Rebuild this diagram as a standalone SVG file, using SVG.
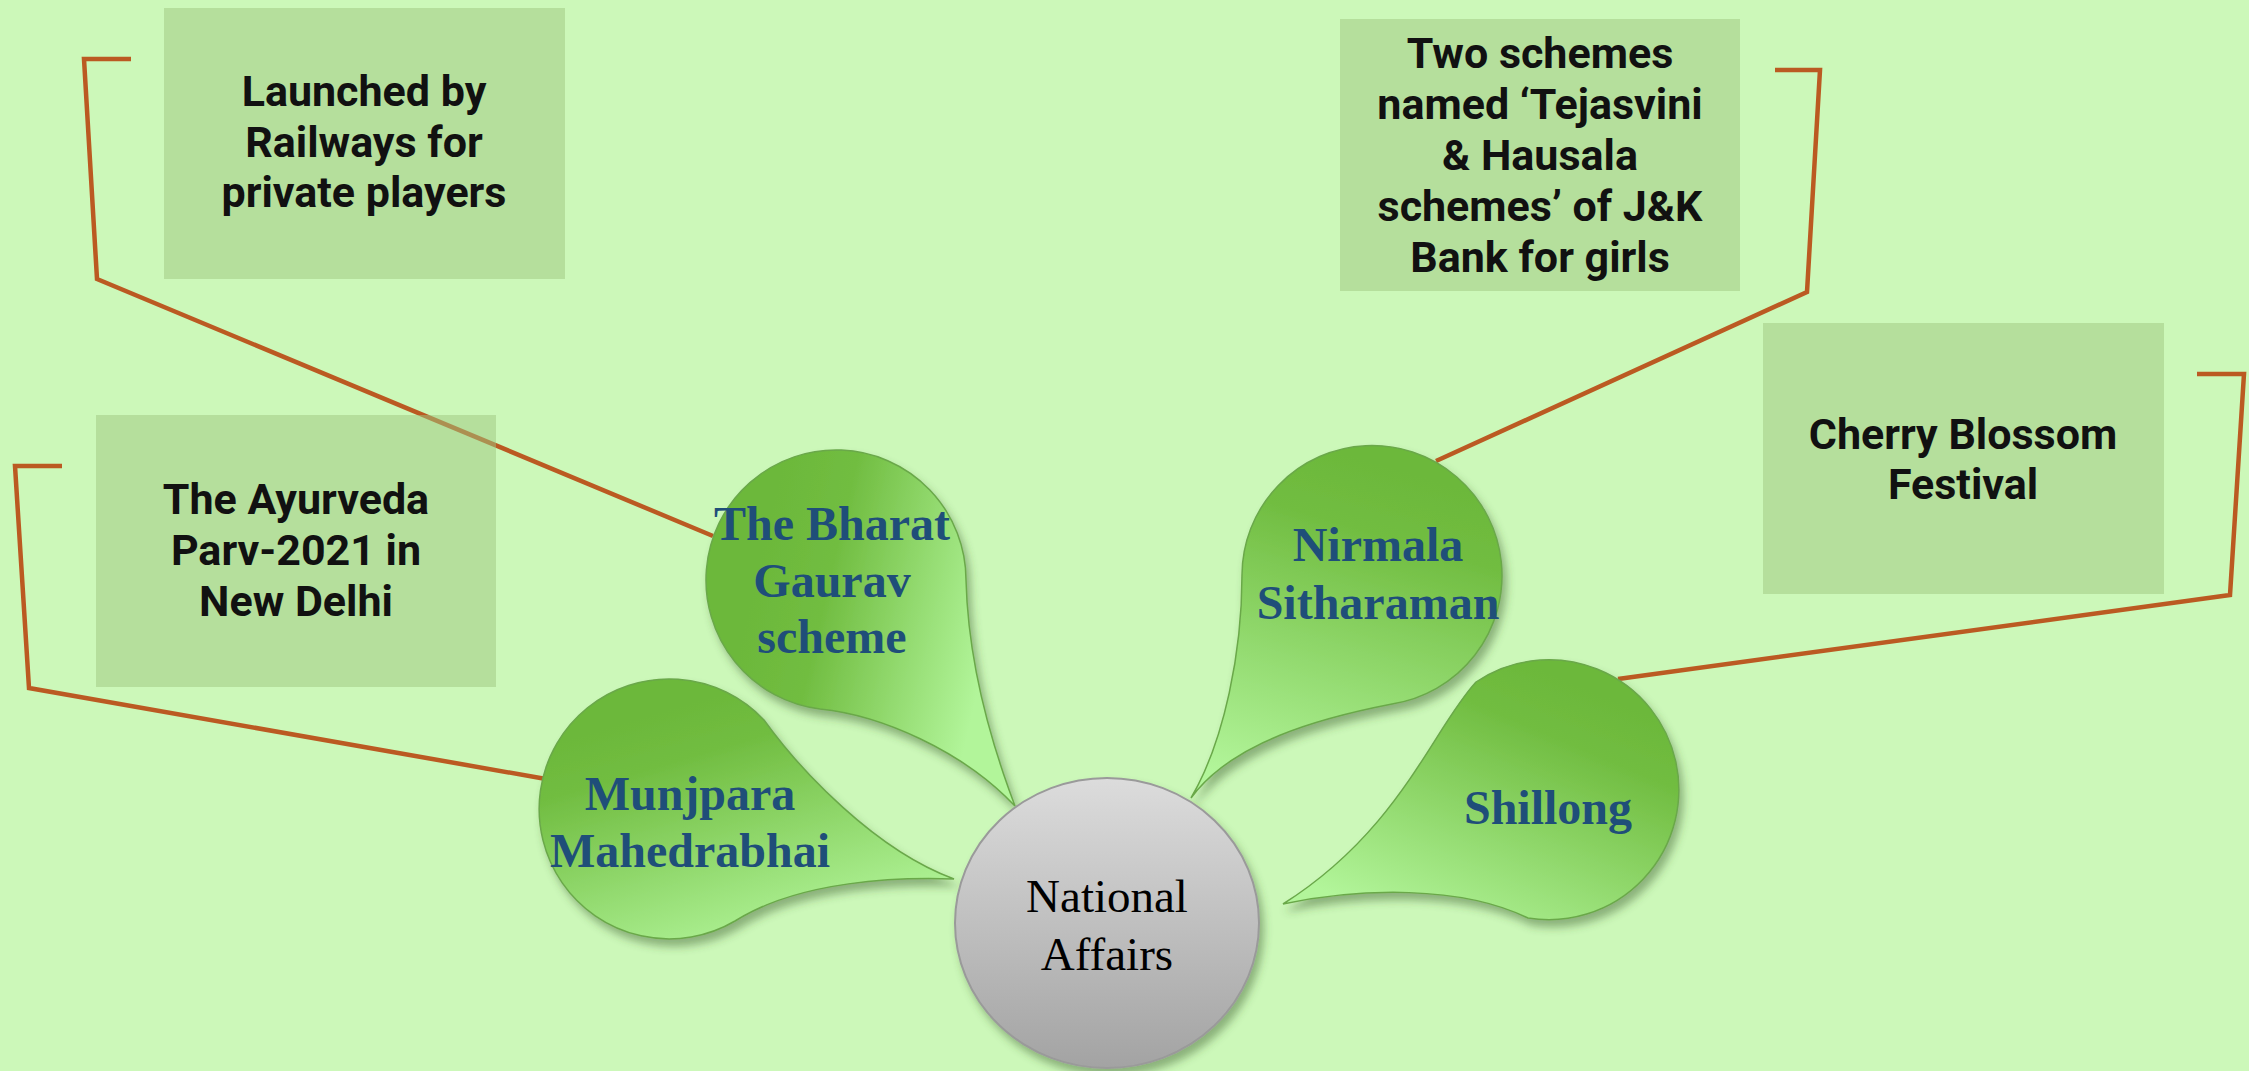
<svg xmlns="http://www.w3.org/2000/svg" width="2249" height="1071" viewBox="0 0 2249 1071">
<defs>
<style>
.conn{fill:none;stroke:#bb5a22;stroke-width:4.5;stroke-linejoin:miter}
.box{fill:rgb(158,197,127);fill-opacity:0.5}
.btxt{font-family:Roboto,"Liberation Sans",sans-serif;font-weight:700;font-size:43px;fill:#111;text-anchor:middle}
.leaf{stroke:#6aa84a;stroke-width:1.5;filter:url(#sh)}
.ltxt{font-family:"Liberation Serif","Times New Roman",serif;font-weight:700;font-size:48px;fill:#1f4e79;text-anchor:middle}
.ctxt{font-family:"Liberation Serif","Times New Roman",serif;font-size:47px;fill:#000;text-anchor:middle}
</style>
<filter id="sh" x="-20%" y="-20%" width="140%" height="140%">
<feDropShadow dx="4" dy="7" stdDeviation="4" flood-color="#3c5a2a" flood-opacity="0.45"/>
</filter>
<linearGradient id="g1" x1="0.15" y1="0.4" x2="0.9" y2="0.6">
<stop offset="0" stop-color="#6cb83a"/><stop offset="0.3" stop-color="#71bd41"/><stop offset="1" stop-color="#b2f59a"/>
</linearGradient>
<linearGradient id="g2" x1="0.35" y1="0.1" x2="0.75" y2="0.95">
<stop offset="0" stop-color="#6cb83a"/><stop offset="0.2" stop-color="#71bd41"/><stop offset="1" stop-color="#b2f59a"/>
</linearGradient>
<linearGradient id="g3" x1="0.6" y1="0.05" x2="0.35" y2="1">
<stop offset="0" stop-color="#6cb83a"/><stop offset="0.2" stop-color="#71bd41"/><stop offset="1" stop-color="#b2f59a"/>
</linearGradient>
<linearGradient id="g4" x1="0.75" y1="0.1" x2="0.2" y2="0.95">
<stop offset="0" stop-color="#6cb83a"/><stop offset="0.2" stop-color="#71bd41"/><stop offset="1" stop-color="#b2f59a"/>
</linearGradient>
<linearGradient id="gc" x1="0" y1="0" x2="0" y2="1">
<stop offset="0" stop-color="#dcdcdc"/><stop offset="1" stop-color="#a3a3a3"/>
</linearGradient>
</defs>
<rect width="2249" height="1071" fill="#ccf8b9"/>
<g id="connectors">
<polyline class="conn" points="131,59 84,59 97,279 713,536"/>
<polyline class="conn" points="62,466 15,466 29,688 546,779"/>
<polyline class="conn" points="1775,70 1820,70 1807,292 1436,461"/>
<polyline class="conn" points="2197,374 2244,374 2230,595 1618,679"/>
</g>
<g id="box-railways">
<rect class="box" x="164" y="8" width="401" height="271"/>
<text class="btxt"><tspan x="364" y="106">Launched by</tspan><tspan x="364" y="157">Railways for</tspan><tspan x="364" y="207">private players</tspan></text>
</g>
<g id="box-ayurveda">
<rect class="box" x="96" y="415" width="400" height="272"/>
<text class="btxt"><tspan x="296" y="514">The Ayurveda</tspan><tspan x="296" y="565">Parv-2021 in</tspan><tspan x="296" y="616">New Delhi</tspan></text>
</g>
<g id="box-jk">
<rect class="box" x="1340" y="19" width="400" height="272"/>
<text class="btxt"><tspan x="1540" y="68">Two schemes</tspan><tspan x="1540" y="119">named ‘Tejasvini</tspan><tspan x="1540" y="170">&amp; Hausala</tspan><tspan x="1540" y="221">schemes’ of J&amp;K</tspan><tspan x="1540" y="272">Bank for girls</tspan></text>
</g>
<g id="box-cherry">
<rect class="box" x="1763" y="323" width="401" height="271"/>
<text class="btxt"><tspan x="1963" y="449">Cherry Blossom</tspan><tspan x="1963" y="499">Festival</tspan></text>
</g>
<g id="leaf-bharat">
<path class="leaf" fill="url(#g1)" d="M966,580 A130,130 0 1 0 820,709 C880,715 962,750 1015,806 C990,740 968,660 966,580 Z"/>
<text class="ltxt"><tspan x="832" y="540">The Bharat</tspan><tspan x="832" y="597">Gaurav</tspan><tspan x="832" y="653">scheme</tspan></text>
</g>
<g id="leaf-munjpara">
<path class="leaf" fill="url(#g2)" d="M954,879 C900,877 800,880 735,921 A130,130 0 1 1 764,720 C800,770 875,850 954,879 Z"/>
<text class="ltxt"><tspan x="690" y="810">Munjpara</tspan><tspan x="690" y="867">Mahedrabhai</tspan></text>
</g>
<g id="leaf-nirmala">
<path class="leaf" fill="url(#g3)" d="M1242,575 A130,130 0 1 1 1392,704 C1320,718 1232,742 1191,798 C1225,740 1242,650 1242,575 Z"/>
<text class="ltxt"><tspan x="1378" y="561">Nirmala</tspan><tspan x="1378" y="619">Sitharaman</tspan></text>
</g>
<g id="leaf-shillong">
<path class="leaf" fill="url(#g4)" d="M1528,918 A130,130 0 1 0 1476,682 C1432,730 1400,830 1283,904 C1360,888 1460,885 1528,918 Z"/>
<text class="ltxt"><tspan x="1548" y="824">Shillong</tspan></text>
</g>
<g id="center-national">
<ellipse cx="1107" cy="923" rx="152" ry="145" fill="url(#gc)" stroke="#9a9a9a" stroke-width="2" filter="url(#sh)"/>
<text class="ctxt"><tspan x="1107" y="912">National</tspan><tspan x="1107" y="970">Affairs</tspan></text>
</g>
</svg>
